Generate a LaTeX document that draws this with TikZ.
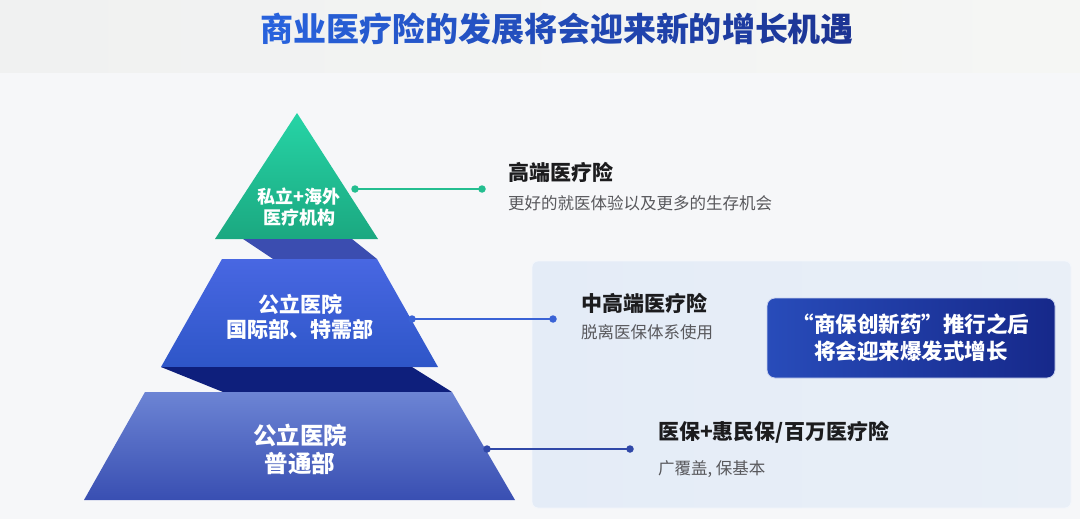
\documentclass[tikz,border=0pt]{standalone}
\usepackage{fontspec}
\newfontfamily\cjk{Noto Sans CJK SC}
\definecolor{bgc}{RGB}{246,247,249}
\definecolor{bandtopL}{RGB}{240,241,241}
\definecolor{bandtopR}{RGB}{245,246,244}
\definecolor{tA}{RGB}{40,98,220}
\definecolor{tB}{RGB}{28,52,148}
\definecolor{triT}{RGB}{38,212,166}
\definecolor{triB}{RGB}{27,168,128}
\definecolor{bandA}{RGB}{59,77,176}
\definecolor{midT}{RGB}{72,103,226}
\definecolor{midB}{RGB}{46,86,200}
\definecolor{bandB}{RGB}{14,31,124}
\definecolor{botT}{RGB}{108,132,212}
\definecolor{botB}{RGB}{57,79,178}
\definecolor{panelL}{RGB}{228,236,247}
\definecolor{panelR}{RGB}{233,239,247}
\definecolor{greenc}{RGB}{36,190,144}
\definecolor{bluec}{RGB}{58,99,214}
\definecolor{navyc}{RGB}{48,72,168}
\definecolor{headc}{RGB}{28,28,30}
\definecolor{subc}{RGB}{88,88,92}
\definecolor{boxL}{RGB}{40,76,186}
\definecolor{boxM}{RGB}{52,86,194}
\definecolor{boxR}{RGB}{22,40,138}
\newcommand{\tg}[2]{\textcolor{tB!#1!tA}{#2}}
\tikzset{
  lbl/.style={text=white, font=\cjk\bfseries, align=center, inner sep=0},
  head/.style={text=headc, font=\cjk\bfseries\fontsize{21}{25}\selectfont, anchor=west, inner sep=0},
  sub/.style={text=subc, font=\cjk\fontsize{16.5}{20}\selectfont, anchor=west, inner sep=0},
  dot/.style={circle, inner sep=0, minimum size=7.5pt},
  conn/.style={line width=1.6pt},
}
\begin{document}
\begin{tikzpicture}[x=1pt,y=-1pt]
\useasboundingbox (0,0) rectangle (1080,519);
% background
\fill[bgc] (0,0) rectangle (1080,519);
\shade[left color=bandtopL, right color=bandtopR] (0,0) rectangle (1080,73);
% title
\node[font=\cjk\bfseries\fontsize{33}{38}\selectfont, inner sep=0] (title) at (557,29)
 {\tg{0}{商}\tg{6}{业}\tg{12}{医}\tg{18}{疗}\tg{24}{险}\tg{30}{的}\tg{35}{发}\tg{41}{展}\tg{47}{将}\tg{53}{会}\tg{59}{迎}\tg{65}{来}\tg{71}{新}\tg{76}{的}\tg{82}{增}\tg{88}{长}\tg{94}{机}\tg{100}{遇}};
% right panel
\shade[left color=panelL, right color=panelR, rounded corners=6pt, draw=white!60!panelL, line width=0.8pt]
  (532,261) rectangle (1071,508);
% pyramid
\shade[top color=triT, bottom color=triB] (297,113) -- (378,239) -- (215,239) -- cycle;
\fill[bandA] (243,239) -- (352,239) -- (377,259) -- (273,259) -- cycle;
\shade[top color=midT, bottom color=midB] (222,259) -- (377,259) -- (438,367) -- (161,367) -- cycle;
\fill[bandB] (161,367) -- (412,367) -- (452,392) -- (223,392) -- cycle;
\shade[top color=botT, bottom color=botB] (145,392) -- (452,392) -- (515,500) -- (84,500) -- cycle;
% pyramid labels
\node[lbl, font=\cjk\bfseries\fontsize{18}{21}\selectfont] (t1) at (299,207) {私立+海外\\医疗机构};
\node[lbl, font=\cjk\bfseries\fontsize{21}{25}\selectfont] (t2) at (300,317) {公立医院\\国际部、特需部};
\node[lbl, font=\cjk\bfseries\fontsize{23.5}{28}\selectfont] (t3) at (300,449) {公立医院\\普通部};
% connectors
\node[dot, fill=greenc] (d1a) at (355,189) {};
\node[dot, fill=greenc] (d1b) at (482,189) {};
\draw[conn, greenc] (d1a.center) -- (d1b.center);
\node[dot, fill=bluec] (d2a) at (412,319) {};
\node[dot, fill=bluec] (d2b) at (553,319) {};
\draw[conn, bluec] (d2a.center) -- (d2b.center);
\node[dot, fill=navyc] (d3a) at (487,449) {};
\node[dot, fill=navyc] (d3b) at (630,449) {};
\draw[conn, navyc] (d3a.center) -- (d3b.center);
% right texts
\node[head] (h1) at (508,172) {高端医疗险};
\node[sub] (s1) at (508,203) {更好的就医体验以及更多的生存机会};
\node[head] (h2) at (581,303) {中高端医疗险};
\node[sub] (s2) at (581,332) {脱离医保体系使用};
\node[head] (h3) at (658,432) {医保+惠民保/百万医疗险};
\node[sub] (s3) at (658,469) {广覆盖, 保基本};
% note box
\node[rounded corners=8pt, minimum width=288pt, minimum height=80pt, left color=boxL, middle color=boxM, right color=boxR,
  draw=white!75!boxL, line width=0.8pt, text=white, align=center, inner sep=0,
  font=\cjk\bfseries\fontsize{21.5}{27}\selectfont] (note) at (911,338) {“商保创新药”推行之后\\将会迎来爆发式增长};
\end{tikzpicture}
\end{document}
